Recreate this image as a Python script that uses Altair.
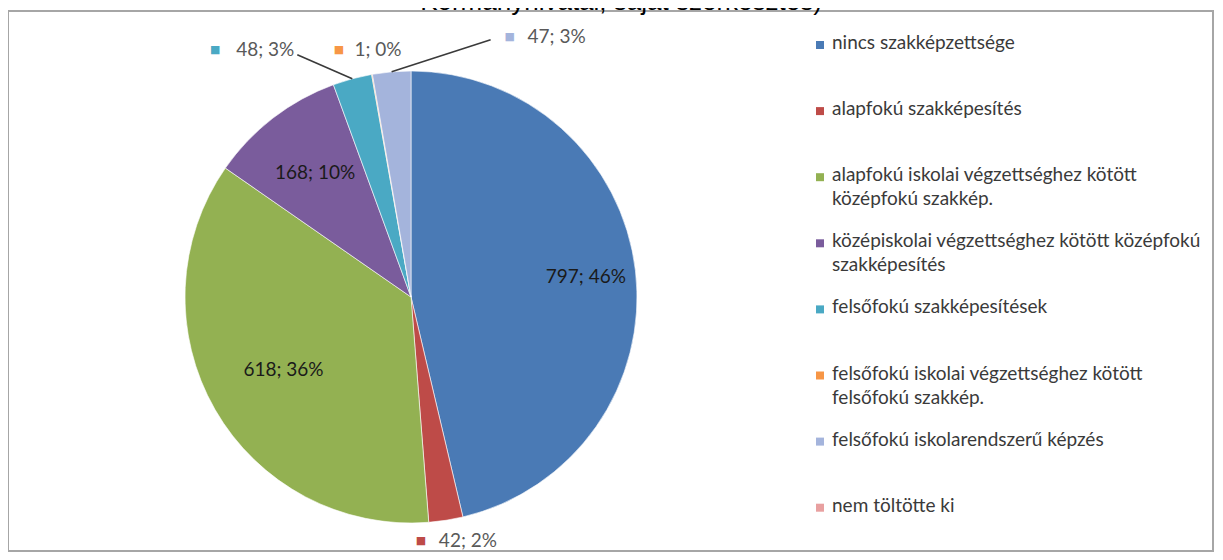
import altair as alt
import pandas as pd

# ---- data ----
categories = [
    "nincs szakképzettsége",
    "alapfokú szakképesítés",
    "alapfokú iskolai végzettséghez kötött középfokú szakkép.",
    "középiskolai végzettséghez kötött középfokú szakképesítés",
    "felsőfokú szakképesítések",
    "felsőfokú iskolai végzettséghez kötött felsőfokú szakkép.",
    "felsőfokú iskolarendszerű képzés",
    "nem töltötte ki",
]
values = [797, 42, 618, 168, 48, 1, 47, 0]
legend_labels = [
    "nincs szakképzettsége",
    "alapfokú szakképesítés",
    "alapfokú iskolai végzettséghez kötött\nközépfokú szakkép.",
    "középiskolai végzettséghez kötött középfokú\nszakképesítés",
    "felsőfokú szakképesítések",
    "felsőfokú iskolai végzettséghez kötött\nfelsőfokú szakkép.",
    "felsőfokú iskolarendszerű képzés",
    "nem töltötte ki",
]
colors = ["#4A7AB5", "#BE4B48", "#93B152", "#7A5C9C", "#4AA9C4", "#F79646", "#A4B4DC", "#E8A0A0"]
title_text = "Kormányhivatal, saját szerkesztés)"

df = pd.DataFrame({
    "idx": list(range(len(categories))),
    "cat": categories,
    "value": values,
    "leg": legend_labels,
})

# ---- layout constants (pixels) ----
CX, CY, R = 403, 286, 226
FONT = "Lato"
W, H = 1205, 540

color_scale = alt.Scale(domain=categories, range=colors)

base = (
    alt.Chart(df)
    .transform_joinaggregate(total="sum(value)")
    .transform_window(cum="sum(value)", sort=[alt.SortField("idx")], frame=[None, 0])
    .transform_calculate(
        a0="2*PI*(datum.cum-datum.value)/datum.total",
        a1="2*PI*datum.cum/datum.total",
    )
    .transform_calculate(
        mid="(datum.a0+datum.a1)/2",
        pct="round(100*datum.value/datum.total)",
    )
    .transform_calculate(lbl="datum.value + '; ' + datum.pct + '%'")
)

pie = base.transform_filter("datum.value > 0").mark_arc(
    outerRadius=R, stroke="white", strokeWidth=0.6
).encode(
    theta=alt.Theta("a0:Q", scale=None),
    theta2="a1:Q",
    color=alt.Color("cat:N", scale=color_scale, legend=None),
    x=alt.value(CX),
    y=alt.value(CY),
)


def inside_label(i, r):
    return base.transform_filter(f"datum.idx == {i}").mark_text(
        radius=r, font=FONT, fontSize=19, color="#1a1a1a"
    ).encode(
        theta=alt.Theta("mid:Q", scale=None),
        text="lbl:N",
        x=alt.value(CX),
        y=alt.value(CY),
    )


def outside_label(i, dx, dy, mdx):
    txt = base.transform_filter(f"datum.idx == {i}").mark_text(
        radius=R, dx=dx, dy=dy, font=FONT, fontSize=19, color="#595959"
    ).encode(
        theta=alt.Theta("mid:Q", scale=None),
        text="lbl:N",
        x=alt.value(CX),
        y=alt.value(CY),
    )
    mk = base.transform_filter(f"datum.idx == {i}").mark_text(
        radius=R, dx=mdx, dy=dy, font="DejaVu Sans", fontSize=11
    ).encode(
        theta=alt.Theta("mid:Q", scale=None),
        text=alt.value("■"),
        color=alt.Color("cat:N", scale=color_scale, legend=None),
        x=alt.value(CX),
        y=alt.value(CY),
    )
    return [txt, mk]


leaders = base.transform_filter("datum.idx == 4 || datum.idx == 6").transform_calculate(
    x1=f"{CX} + {R}*sin(datum.mid)",
    y1=f"{CY} - {R}*cos(datum.mid)",
).transform_calculate(
    x2="datum.x1 + (datum.idx == 4 ? -55 : 99)",
    y2="datum.y1 + (datum.idx == 4 ? -24 : -32)",
).mark_rule(color="#3a3a3a", strokeWidth=1.6).encode(
    x=alt.X("x1:Q", scale=None),
    y=alt.Y("y1:Q", scale=None),
    x2="x2:Q",
    y2="y2:Q",
)

leg_base = base.transform_calculate(ly="34 + 66.1*datum.idx")
leg_marks = leg_base.mark_square(size=64, opacity=1).encode(
    x=alt.value(812),
    y=alt.Y("ly:Q", scale=None),
    color=alt.Color("cat:N", scale=color_scale, legend=None),
)
leg_text = leg_base.mark_text(
    align="left", baseline="top", dy=-11, lineBreak="\n", lineHeight=24,
    font=FONT, fontSize=19, color="#3a3a3a"
).encode(
    x=alt.value(824),
    y=alt.Y("ly:Q", scale=None),
    text="leg:N",
)

title = alt.Chart(pd.DataFrame({"t": [title_text]})).mark_text(
    font="Liberation Sans", fontSize=26, baseline="alphabetic", align="center", color="#000000"
).encode(x=alt.value(613), y=alt.value(-1), text="t:N")

layers = [pie, leaders,
          inside_label(0, 176), inside_label(2, 147), inside_label(3, 157)]
layers += outside_label(4, -87, -29, -137)
layers += outside_label(5, 6, -24, -33)
layers += outside_label(6, 165, -35, 118)
layers += outside_label(1, 22, 21, -25)
layers += [leg_marks, leg_text, title]

chart = alt.layer(*layers).properties(
    width=W, height=H,
    autosize=alt.AutoSizeParams(type="none"),
    padding={"left": 0, "top": 3, "right": 2, "bottom": 1},
).configure_view(stroke="#A6A6A6", strokeWidth=2)

chart.save("out.html", embed_options={"renderer": "svg", "actions": False})
